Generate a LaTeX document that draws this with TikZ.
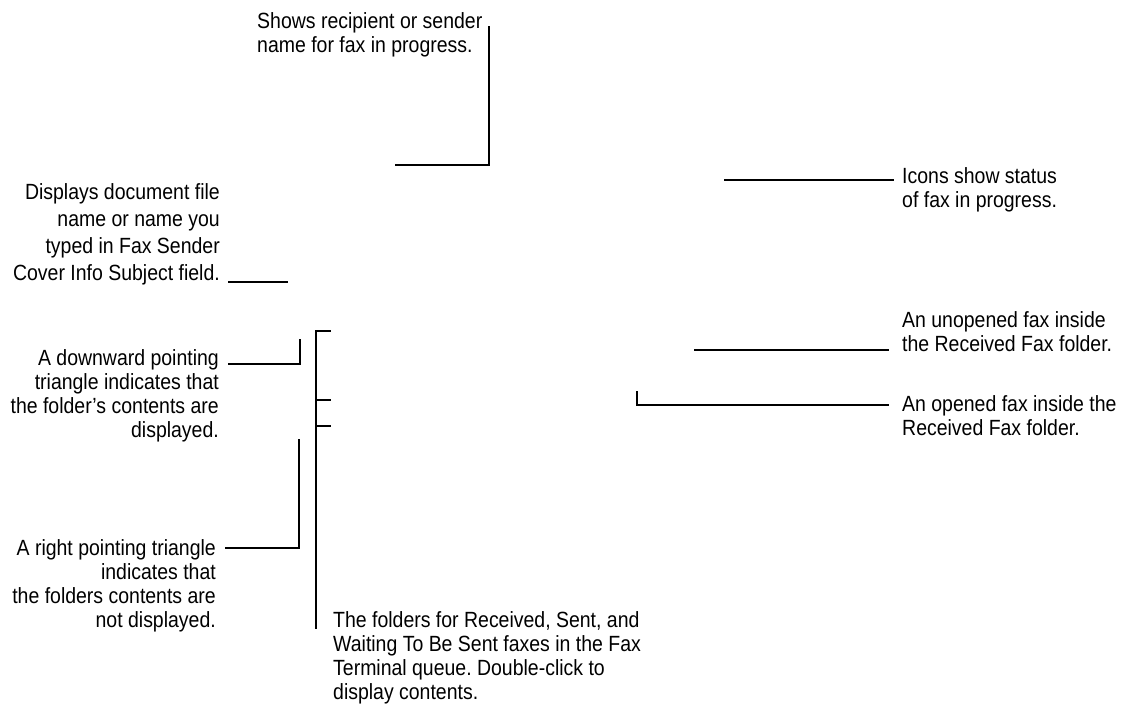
\documentclass[tikz,border=0pt]{standalone}
\usepackage{fontspec}
\setmainfont{Liberation Sans}[FakeStretch=0.885]
\frenchspacing
\newcommand{\Rblock}[1]{\vtop{\halign{\hfil##\cr#1\crcr}}}
\newcommand{\Lblock}[1]{\vtop{\halign{##\hfil\cr#1\crcr}}}
\tikzset{
  lbl/.style={inner sep=0pt, font=\fontsize{22}{24}\selectfont},
  lblC/.style={inner sep=0pt, font=\fontsize{22}{27}\selectfont},
  lead/.style={line width=1.5pt, line cap=rect}
}
\begin{document}
\begin{tikzpicture}[x=1pt,y=-1pt]
\useasboundingbox (0,0) rectangle (1122,723);
% texts
\node[lbl, anchor=base west] (tA) at (257,28) {\Lblock{Shows recipient or sender\cr name for fax in progress.}};
\node[lbl, anchor=base west] (tB) at (902,183) {\Lblock{Icons show status\cr of fax in progress.}};
\node[lblC, anchor=base east] (tC) at (220,199) {\Rblock{Displays document file\cr name or name you\cr typed in Fax Sender\cr Cover Info Subject field.}};
\node[lbl, anchor=base east] (tD) at (219,365) {\Rblock{A downward pointing\cr triangle indicates that\cr the folder’s contents are\cr displayed.}};
\node[lbl, anchor=base east] (tE) at (216,555) {\Rblock{A right pointing triangle\cr indicates that\cr the folders contents are\cr not displayed.}};
\node[lbl, anchor=base west] (tF) at (333,627) {\Lblock{The folders for Received, Sent, and\cr Waiting To Be Sent faxes in the Fax\cr Terminal queue. Double-click to\cr display contents.}};
\node[lbl, anchor=base west] (tG) at (902,327) {\Lblock{An unopened fax inside\cr the Received Fax folder.}};
\node[lbl, anchor=base west] (tH) at (902,411) {\Lblock{An opened fax inside the\cr Received Fax folder.}};
% leader coordinates
\coordinate (a1) at (396,165); \coordinate (a2) at (489,165); \coordinate (a3) at (489,27);
\coordinate (b1) at (725,180); \coordinate (b2) at (893,180);
\coordinate (c1) at (229,282); \coordinate (c2) at (287,282);
\coordinate (d1) at (229,364); \coordinate (d2) at (300,364); \coordinate (d3) at (300,340);
\coordinate (e1) at (226,548); \coordinate (e2) at (299,548); \coordinate (e3) at (299,440);
\coordinate (f0) at (330,331); \coordinate (f1) at (316,331); \coordinate (f2) at (316,628);
\coordinate (f3) at (316,400); \coordinate (f4) at (330,400);
\coordinate (f5) at (316,426); \coordinate (f6) at (330,426);
\coordinate (g1) at (695,350); \coordinate (g2) at (888,350);
\coordinate (h1) at (637,392); \coordinate (h2) at (637,405); \coordinate (h3) at (888,405);
% leaders
\draw[lead] (a1) -- (a2) -- (a3);
\draw[lead] (b1) -- (b2);
\draw[lead] (c1) -- (c2);
\draw[lead] (d1) -- (d2) -- (d3);
\draw[lead] (e1) -- (e2) -- (e3);
\draw[lead] (f0) -- (f1) -- (f2);
\draw[lead] (f3) -- (f4);
\draw[lead] (f5) -- (f6);
\draw[lead] (g1) -- (g2);
\draw[lead] (h1) -- (h2) -- (h3);
\end{tikzpicture}
\end{document}
